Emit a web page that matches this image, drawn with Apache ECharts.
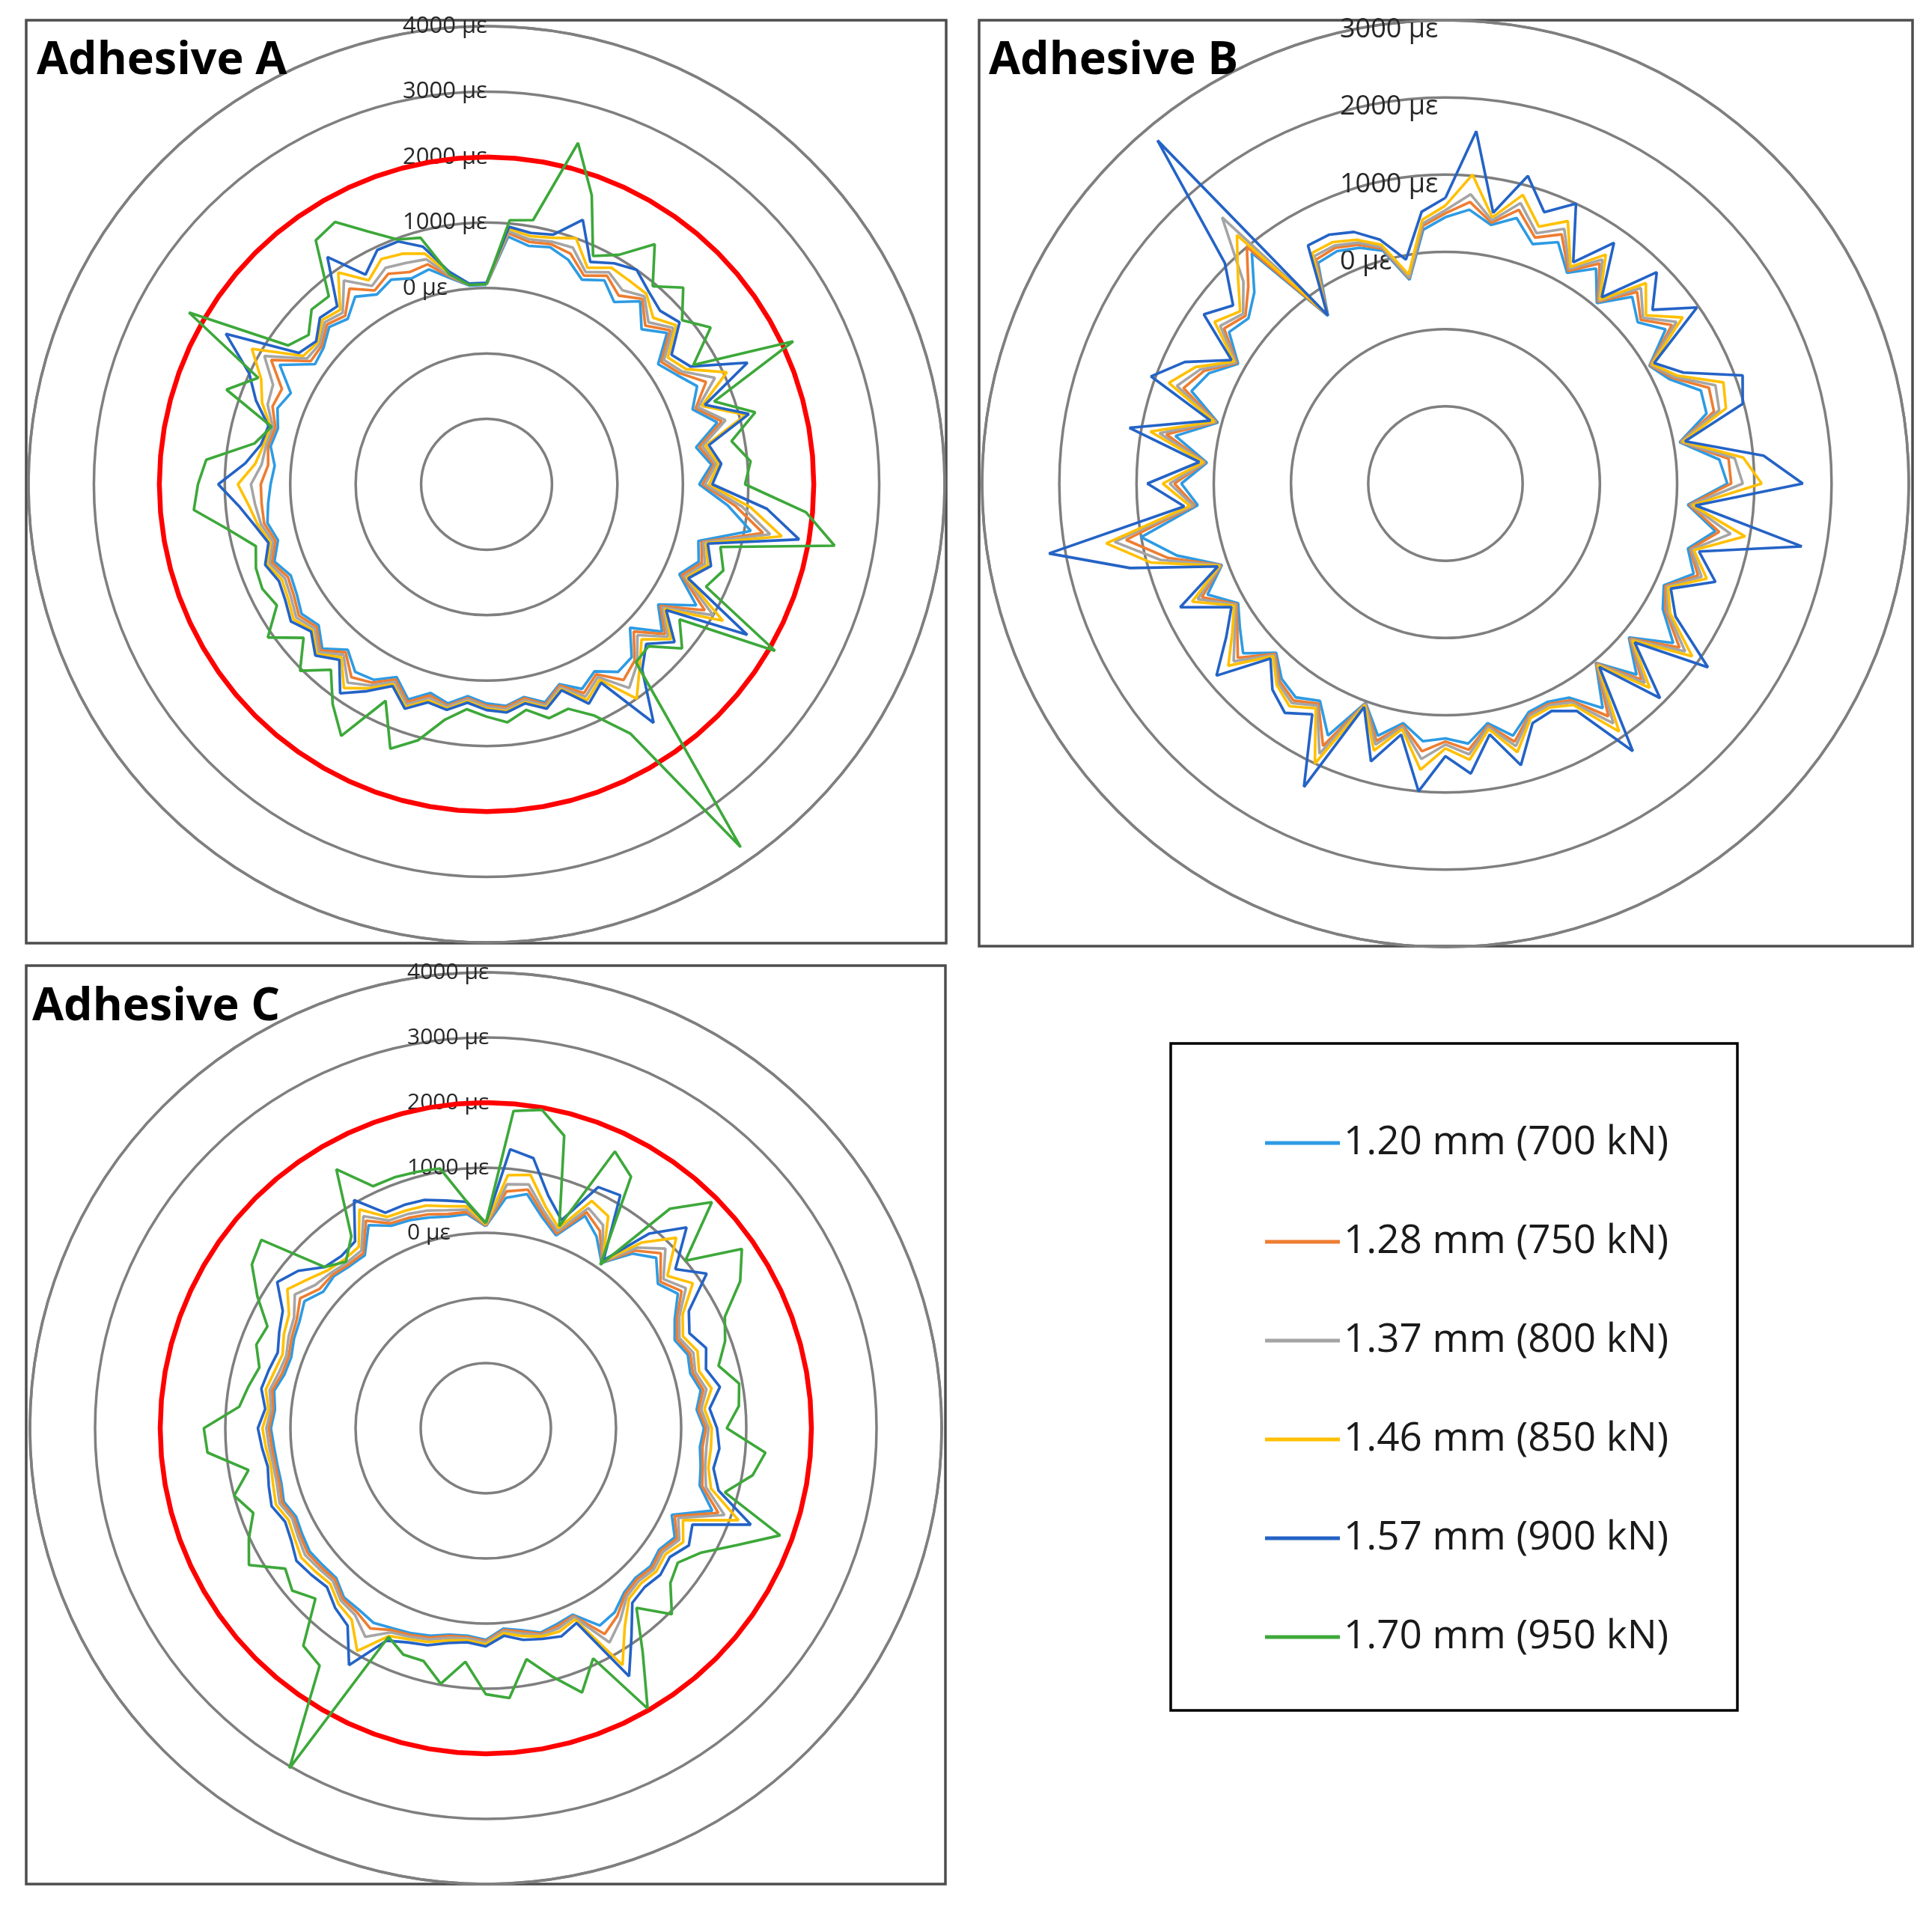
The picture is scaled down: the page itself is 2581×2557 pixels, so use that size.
<!DOCTYPE html>
<html><head><meta charset="utf-8">
<script src="https://cdn.jsdelivr.net/npm/echarts@6/dist/echarts.min.js"></script>
<style>html,body{margin:0;padding:0;background:#fff}#c{width:2581px;height:2557px}</style>
</head><body><div id="c"></div>
<script>
// angle of each measurement point, degrees clockwise from top
const ANGLES = [0,5,10,15,20,25,30,35,40,45,50,55,60,65,70,75,80,85,90,95,100,105,110,115,
  120,125,130,135,140,145,150,155,160,165,170,175,180,185,190,195,200,205,210,215,220,225,230,235,
  240,245,250,255,260,265,270,275,280,285,290,295,300,305,310,315,320,325,330,335,340,345,350,355];

const SERIES_NAMES = ['1.20 mm (700 kN)','1.28 mm (750 kN)','1.37 mm (800 kN)','1.46 mm (850 kN)','1.57 mm (900 kN)','1.70 mm (950 kN)'];
const TITLES = ['Adhesive A','Adhesive B','Adhesive C'];
const LIMIT_A = 2000;
const LIMIT_C = 2000;

// ---------- Adhesive A (με) ----------
const A_120 = [50,800,700,750,650,450,600,400,650,350,600,200,
  350,550,350,650,250,450,250,700,1100,350,450,250,
  700,200,500,100,450,500,300,450,250,450,300,400,
  350,250,400,300,500,250,450,500,300,550,350,450,
  350,300,450,300,400,350,300,250,350,300,400,300,
  650,200,250,400,300,500,350,450,350,400,200,50];
const A_128 = [60,850,760,800,750,520,680,520,700,430,660,260,
  400,700,400,720,300,490,300,820,1290,400,500,290,
  850,240,560,180,520,650,350,520,270,480,320,420,
  380,280,430,340,540,290,500,600,350,590,390,500,
  400,350,490,340,450,450,450,350,390,340,480,450,
  800,280,290,450,360,650,420,550,450,480,220,60];
const A_137 = [60,880,800,840,850,580,740,620,750,500,720,310,
  450,850,440,780,350,520,340,920,1400,430,550,330,
  1000,280,620,260,580,800,400,580,300,500,350,450,
  400,300,450,380,580,330,550,700,400,630,430,550,
  450,400,530,380,500,550,600,450,420,380,560,600,
  920,350,330,500,420,800,500,650,600,560,240,60];
const A_146 = [70,920,850,900,1000,650,820,800,800,600,780,380,
  520,1050,500,1100,400,560,400,1050,1580,470,600,370,
  1170,320,680,350,640,1000,450,640,330,530,380,480,
  430,330,480,420,620,370,600,800,450,670,470,600,
  500,450,570,420,550,650,800,550,460,420,650,800,
  1140,420,370,550,480,950,600,800,750,650,270,70];
const A_157 = [80,950,900,950,1300,750,900,1000,850,750,850,450,
  600,1400,550,1150,450,600,450,1300,1850,500,650,400,
  1600,350,750,450,700,1450,500,700,350,550,400,500,
  450,350,500,450,650,400,650,900,500,700,500,650,
  550,500,600,450,600,800,1100,700,500,450,750,1000,
  1600,500,400,600,550,1240,700,950,950,760,300,80];
const A_170 = [60,1050,1100,2400,1700,850,1050,1480,950,1250,900,1180,
  650,2170,700,1250,800,1050,950,1900,2400,700,850,700,
  2090,600,900,500,550,3770,1400,900,650,700,500,650,
  550,450,650,1050,1300,650,1440,1100,700,1030,650,1080,
  700,780,750,650,1000,1490,1410,1300,600,400,1230,850,
  2250,700,550,780,750,1550,1630,1260,980,900,260,60];

// ---------- Adhesive B (με) ----------
const B_120 = [450,560,400,560,300,450,150,400,50,420,250,480,
  50,200,520,500,80,560,650,150,550,250,420,120,
  250,600,100,500,30,550,200,120,150,380,150,380,
  300,350,150,380,20,600,250,380,300,100,420,250,
  100,400,80,600,1000,220,420,100,550,50,500,380,
  100,420,330,500,900,-350,300,320,250,120,-320,300];
const B_128 = [500,660,430,670,390,560,180,480,70,510,300,580,
  60,240,630,600,90,680,700,170,600,280,480,140,
  290,700,120,590,40,680,240,150,180,460,180,460,
  340,480,180,450,30,750,290,430,340,120,510,290,
  120,480,90,720,1200,260,510,120,670,70,610,450,
  120,500,380,610,1000,-340,350,370,290,150,-300,350];
const B_137 = [540,760,460,760,450,640,210,540,90,580,340,650,
  75,270,720,670,100,760,850,190,750,300,530,160,
  320,790,140,650,55,790,270,170,200,520,200,520,
  380,580,200,500,40,860,320,470,370,140,580,330,
  135,540,100,820,1350,280,570,130,760,85,700,500,
  135,560,420,700,1500,-330,400,400,320,170,-290,380];
const B_146 = [600,1015,500,870,540,750,240,620,110,670,390,750,
  90,310,830,760,120,870,1095,210,940,330,600,180,
  360,900,160,740,70,920,310,200,230,600,230,590,
  430,720,230,580,55,1000,360,520,400,160,670,370,
  160,620,115,950,1460,320,660,150,880,100,810,570,
  160,650,470,800,1200,-320,450,450,360,200,-250,430];
const B_157 = [700,1580,560,1125,740,1000,310,805,150,870,500,975,
  120,400,1095,985,150,1135,1627,250,1685,400,720,220,
  440,1150,200,930,100,1230,400,250,300,775,300,770,
  530,1000,300,725,80,1335,450,625,485,205,870,465,
  200,790,137,1227,2213,395,860,200,1155,150,1058,725,
  200,820,590,1040,2800,-340,560,557,467,268,-55,533];

// ---------- Adhesive C (με) ----------
const C_120 = [100,550,650,350,150,600,400,100,500,700,450,600,
  350,200,300,250,350,250,350,300,350,400,700,150,
  350,250,300,250,300,450,500,160,200,250,150,90,
  250,200,220,300,350,390,450,400,390,250,270,300,
  255,215,300,250,250,265,300,250,300,200,180,250,
  300,400,260,300,250,240,600,430,400,350,300,300];
const C_128 = [110,650,720,400,180,660,500,110,560,800,500,670,
  390,240,340,290,390,280,380,340,380,440,800,200,
  390,280,330,280,330,520,650,180,230,270,170,110,
  270,220,240,330,380,420,550,450,420,280,310,340,
  290,250,330,280,280,300,330,280,330,240,220,290,
  350,480,330,330,280,280,680,470,440,400,340,330];
const C_137 = [120,760,800,450,220,730,600,120,620,900,560,750,
  430,280,390,330,440,320,420,400,420,500,900,260,
  430,320,370,320,370,600,800,200,270,290,200,130,
  290,240,270,360,410,460,700,500,460,320,350,390,
  330,280,370,320,310,340,370,310,370,290,260,340,
  400,580,420,370,320,330,760,520,500,460,400,370];
const C_146 = [130,900,950,530,270,850,760,130,720,1135,640,880,
  490,340,460,390,520,370,470,470,470,580,1130,340,
  500,370,420,370,420,720,1200,240,320,310,240,160,
  320,270,310,400,450,520,950,590,520,380,420,460,
  390,340,430,380,350,390,430,350,430,360,320,420,
  490,720,560,430,380,400,880,580,560,540,460,420];
const C_157 = [150,1300,1210,700,400,1085,1130,150,900,1360,800,1140,
  600,450,600,500,650,450,550,600,550,700,1330,500,
  600,450,500,450,500,900,1400,300,400,350,300,200,
  350,300,350,450,500,600,1200,700,600,450,500,550,
  450,400,500,450,400,450,500,400,500,450,400,500,
  600,910,760,500,450,500,1045,650,650,630,550,490];
const C_170 = [150,1890,1965,1650,300,1690,1460,65,1400,1910,1000,1800,
  1510,1050,910,700,950,900,700,1310,1160,800,1810,1250,
  820,600,700,1040,600,1200,1970,900,1320,950,600,1160,
  1085,600,985,700,700,535,3030,1450,1360,700,880,760,
  1200,1015,800,1000,700,1290,1330,800,700,600,750,700,
  1050,1385,1500,500,340,600,1590,1100,1100,1075,1050,510];

const COLORS = ['#2E9BE3','#EE7D31','#A5A5A5','#FFC000','#2463C6','#3DA83A'];
const FONT = '"Open Sans", "Noto Sans", sans-serif';

const PANELS = [
  {series:[A_120,A_128,A_137,A_146,A_157,A_170], limit:LIMIT_A, max:4000},
  {series:[B_120,B_128,B_137,B_146,B_157], limit:null, max:3000},
  {series:[C_120,C_128,C_137,C_146,C_157,C_170], limit:LIMIT_C, max:4000}
];
const POLAR_LAYOUT = [
  {center:[650,647], r:612, labelSize:31, margin:112, vAlign:'middle', lh:31},
  {center:[1931,646], r:619, labelSize:36, margin:141, vAlign:'top', lh:26},
  {center:[649,1908], r:609, labelSize:30, margin:105, vAlign:'middle', lh:30}
];

function toPolar(vals){
  const d = ANGLES.map((a,i)=>[vals[i], a]);
  d.push([vals[0], 360]);
  return d;
}

const RING = {color:'#7f7f7f', width:3.5};
const polar = [], angleAxis = [], radiusAxis = [], series = [];
PANELS.forEach((p, pi) => {
  const L = POLAR_LAYOUT[pi];
  polar.push({center:L.center, radius:[0, L.r]});
  angleAxis.push({polarIndex:pi, type:'value', min:0, max:360, startAngle:90, clockwise:true,
    axisLine:{show:true, lineStyle:RING},
    axisTick:{show:false}, axisLabel:{show:false}, splitLine:{show:false}});
  radiusAxis.push({polarIndex:pi, type:'value', min:-3000, max:p.max, interval:1000,
    axisLine:{show:false}, axisTick:{show:false},
    splitLine:{show:true, lineStyle:RING},
    axisLabel:{show:true, formatter:v => v >= 0 ? v + ' με' : '',
      fontSize:L.labelSize, fontFamily:FONT, color:'#262626', lineHeight:L.lh,
      align:'left', verticalAlign:L.vAlign, margin:L.margin}});
  if (p.limit !== null) {
    series.push({type:'line', coordinateSystem:'polar', polarIndex:pi, name:'limit'+pi,
      data: ANGLES.map(a=>[p.limit, a]).concat([[p.limit,360]]),
      symbol:'none', silent:true, z:2,
      lineStyle:{color:'#FF0000', width:6.5}, itemStyle:{color:'#FF0000'}});
  }
  p.series.forEach((vals, si) => {
    series.push({type:'line', coordinateSystem:'polar', polarIndex:pi, name:SERIES_NAMES[si],
      data: toPolar(vals), symbol:'none', showSymbol:false, silent:true, z:3+si,
      lineStyle:{color:COLORS[si], width:3.6}, itemStyle:{color:COLORS[si]}});
  });
});

const chart = echarts.init(document.getElementById('c'), null, {renderer:'canvas'});
chart.setOption({
  animation:false,
  backgroundColor:'#ffffff',
  title: [
    {text:TITLES[0], left:49, top:51, padding:0, textStyle:{fontSize:61, fontWeight:'bold', fontFamily:FONT, color:'#000'}},
    {text:TITLES[1], left:1321, top:51, padding:0, textStyle:{fontSize:61, fontWeight:'bold', fontFamily:FONT, color:'#000'}},
    {text:TITLES[2], left:43, top:1315, padding:0, textStyle:{fontSize:61, fontWeight:'bold', fontFamily:FONT, color:'#000'}}
  ],
  legend: {
    data: SERIES_NAMES, orient:'vertical', left:1690, top:1497, padding:0,
    itemWidth:100, itemHeight:5, itemGap:72, icon:'rect', selectedMode:false,
    textStyle:{fontSize:53, fontFamily:FONT, color:'#1a1a1a', lineHeight:60}
  },
  graphic: [
    {type:'rect', shape:{x:35, y:27, width:1229, height:1233}, style:{fill:'none', stroke:'#4d4d4d', lineWidth:3.5}, silent:true},
    {type:'rect', shape:{x:1308, y:27, width:1247, height:1237}, style:{fill:'none', stroke:'#4d4d4d', lineWidth:3.5}, silent:true},
    {type:'rect', shape:{x:35, y:1290, width:1228, height:1227}, style:{fill:'none', stroke:'#4d4d4d', lineWidth:3.5}, silent:true},
    {type:'rect', shape:{x:1564, y:1394, width:757, height:891}, style:{fill:'none', stroke:'#000000', lineWidth:3.5}, silent:true}
  ],
  polar, angleAxis, radiusAxis, series
});
</script></body></html>
